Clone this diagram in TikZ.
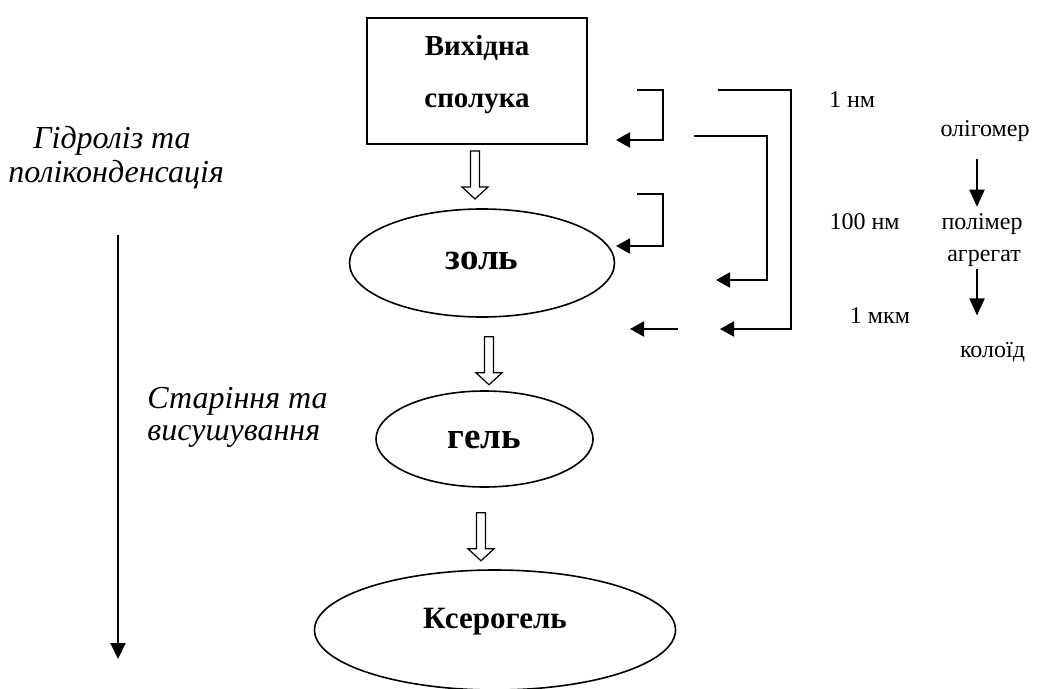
\documentclass[tikz,border=0pt]{standalone}
\usepackage{fontspec}
\setmainfont{Liberation Serif}
\usetikzlibrary{arrows.meta,calc,shapes.geometric}
\newcommand{\boxstrut}{\rule[-10pt]{0pt}{20pt}}

\begin{document}
\begin{tikzpicture}[x=0.5pt,y=-0.5pt,
		stage/.style={draw,ellipse,line width=0.8pt,inner sep=0pt,font=\bfseries\fontsize{18.5}{20}\selectfont},
		note/.style={inner sep=0pt,anchor=base west,font=\itshape\fontsize{16}{18}\selectfont},
		scale label/.style={inner sep=0pt,anchor=base,font=\fontsize{12}{14}\selectfont},
		bracket/.style={line width=1pt,-{Triangle[length=7pt,width=7.5pt]}},
		down/.style={line width=1pt,-{Triangle[length=8.5pt,width=7.5pt]}},
		hollow/.pic={\draw[line width=0.6pt,fill=white] (-4.5,0) -- (-4.5,36) -- (-13,36) -- (0,48) -- (13,36) -- (4.5,36) -- (4.5,0) -- cycle;}]
		\useasboundingbox (0,0) rectangle (1042,689);
		% main chain
		\node[draw,line width=1pt,minimum width=110pt,minimum height=63pt,align=center,
			font=\bfseries\fontsize{14.5}{26}\selectfont] (src) at (477,81) {\boxstrut Вихідна\\\boxstrut сполука};
		\node[stage,minimum width=132.5pt,minimum height=54pt,text height=10pt,text depth=3pt] (sol) at (482,263) {золь};
		\node[stage,minimum width=108.5pt,minimum height=48pt,text height=12pt,text depth=3pt] (gel) at (484.5,439) {гель};
		\node[stage,minimum width=180.5pt,minimum height=60pt,text height=10pt,text depth=12pt,
			font=\bfseries\fontsize{15.5}{17}\selectfont] (xer) at (495,630) {Ксерогель};
		\pic at ($(src.south)+(-2,6)$) {hollow};
		\pic at ($(sol.south)+(7,19)$) {hollow};
		\pic at ($(gel.south)+(-3.5,25)$) {hollow};
		% process labels
		\node[note] (hyd1) at (33,149) {Гідроліз та};
		\node[note] (hyd2) at (8,183) {поліконденсація};
		\node[note] (age1) at (147,408) {Старіння та};
		\node[note] (age2) at (147,440) {висушування};
		\coordinate (ltop) at (118,235);
		\coordinate (lbot) at (118,659);
		\draw[line width=1pt,-{Triangle[length=8pt,width=7.5pt]}] (ltop) -- (lbot);
		% size brackets
		\draw[bracket] (637,90) -- (663,90) -- (663,140) -- (616,140);
		\draw[bracket] (637,194) -- (663,194) -- (663,246) -- (616,246);
		\draw[bracket] (694,136) -- (767,136) -- (767,280) -- (716,280);
		\draw[bracket] (718,90) -- (791,90) -- (791,329) -- (720,329);
		\draw[bracket] (678,329) -- (630,329);
		% scale
		\node[scale label] (nm1) at (852,108) {1 нм};
		\node[scale label] (nm100) at (864.5,230) {100 нм};
		\node[scale label] (mkm) at (880,323) {1 мкм};
		\node[scale label] (olig) at (985,137) {олігомер};
		\node[scale label] (polim) at (982,230) {полімер};
		\node[scale label] (agr) at (984,262) {агрегат};
		\node[scale label] (kol) at (992.5,357) {колоїд};
		\coordinate (scol) at (977,0);
		\draw[down,shorten <=8pt,shorten >=3.5pt] (olig.south -| scol) -- (polim.north -| scol);
		\draw[down,shorten <=0.5pt,shorten >=13pt] (agr.south -| scol) -- (kol.north -| scol);
	\end{tikzpicture}
\end{document}
